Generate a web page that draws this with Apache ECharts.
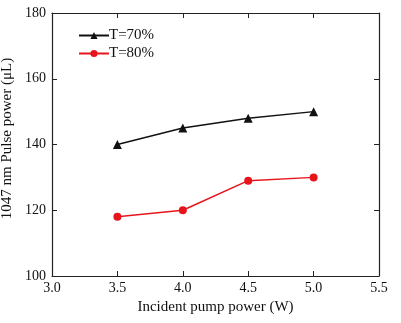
<!DOCTYPE html>
<html><head><meta charset="utf-8">
<script src="https://cdn.jsdelivr.net/npm/echarts@6/dist/echarts.min.js"></script>
<style>html,body{margin:0;padding:0;background:#fff}#c{width:401px;height:323px}</style>
</head><body><div id="c"></div>
<script>
const pumpPower = [3.5, 4.0, 4.5, 5.0];
const t70 = [140, 145, 148, 150];
const t80 = [118, 120, 129, 130];
const seriesNames = ['T=70%', 'T=80%'];
const xTitle = 'Incident pump power (W)';
const yTitle = '1047 nm Pulse power (\u03bcL)';

const font = 'Liberation Serif, Times New Roman, serif';
const axisCommon = {
  axisLine: {show: true, lineStyle: {color: '#222', width: 1.2}},
  axisTick: {show: true, inside: true, length: 5, lineStyle: {color: '#222', width: 1}},
  splitLine: {show: false}
};
const chart = echarts.init(document.getElementById('c'), null, {renderer: 'canvas'});
chart.setOption({
  backgroundColor: '#fff',
  animation: false,
  textStyle: {fontFamily: font},
  grid: {left: 52, right: 22, top: 13, bottom: 47, containLabel: false, outerBoundsMode: 'none'},
  legend: {
    left: 78, top: 28, padding: 0, orient: 'vertical', itemWidth: 30, itemHeight: 9, itemGap: 3,
    textStyle: {fontFamily: font, fontSize: 15, color: '#111', padding: [0,0,0,-5]},
    data: seriesNames
  },
  xAxis: [
    Object.assign({type: 'value', min: 3.0, max: 5.5, interval: 0.5, position: 'bottom',
      name: xTitle, nameLocation: 'middle', nameGap: 22,
      nameTextStyle: {fontFamily: font, fontSize: 15, color: '#111'},
      axisLabel: {fontFamily: font, fontSize: 14, color: '#111', margin: 5,
        formatter: v => v.toFixed(1)}}, axisCommon),
    Object.assign({type: 'value', min: 3.0, max: 5.5, interval: 0.5, position: 'top',
      axisLabel: {show: false}}, axisCommon)
  ],
  yAxis: [
    Object.assign({type: 'value', min: 100, max: 180, interval: 20, position: 'left',
      name: yTitle, nameLocation: 'middle', nameGap: 37,
      nameTextStyle: {fontFamily: font, fontSize: 15, color: '#111', padding: [0,0,0,12]},
      axisLabel: {fontFamily: font, fontSize: 14, color: '#111', margin: 6}}, axisCommon),
    Object.assign({type: 'value', min: 100, max: 180, interval: 20, position: 'right',
      axisLabel: {show: false}}, axisCommon)
  ],
  series: [
    {name: seriesNames[0], type: 'line', data: pumpPower.map((x, i) => [x, t70[i]]),
      symbol: 'triangle', symbolSize: 9, itemStyle: {color: '#111'},
      lineStyle: {color: '#111', width: 1.5}},
    {name: seriesNames[1], type: 'line', data: pumpPower.map((x, i) => [x, t80[i]]),
      symbol: 'circle', symbolSize: 8, itemStyle: {color: '#e8141c'},
      lineStyle: {color: '#e8141c', width: 1.5}}
  ]
});
</script></body></html>
